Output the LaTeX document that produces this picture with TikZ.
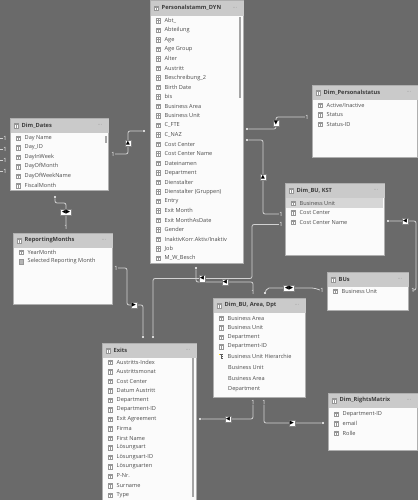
\documentclass[tikz,border=0pt]{standalone}
\usepackage{fontspec}
\setmainfont{Open Sans}
\newfontfamily\symf{DejaVu Sans}
\usetikzlibrary{calc}
\definecolor{bg}{RGB}{106,106,106}
\definecolor{hdr}{RGB}{202,202,202}
\definecolor{bodyc}{RGB}{251,251,251}
\definecolor{txt}{RGB}{75,75,75}
\definecolor{ttl}{RGB}{60,60,60}
\definecolor{lnc}{RGB}{210,210,210}
\definecolor{icn}{RGB}{150,150,150}
\definecolor{brd}{RGB}{175,175,175}
\definecolor{hil}{RGB}{214,214,214}
\definecolor{scr}{RGB}{165,165,165}

\newcommand\mktbl[6]{% name, x, y, w, h, title
  \node[tbody, minimum width=#4pt, minimum height=#5pt] (#1) at (#2,#3) {};
  \node[thead, minimum width=#4pt] (#1-h) at (#2+0.4,#3+0.4) {};
  \node[colicon] (#1-hi) at (#2+6,#3+7.5) {};
  \node[ttitle] (#1-t) at (#2+11.5,#3+7.5) {#6};
  \node[tdots] (#1-d) at (#2+#4-8,#3+7.5) {···};
}
\newcommand\mkrows[4]{% name, x, y, list
  \foreach \r [count=\i] in {#4} {
    \node[colicon] (#1-i\i) at (#2+8,#3+20+\i*9.5-9.5) {};
    \node[rowtxt] (#1-r\i) at (#2+14.5,#3+20+\i*9.5-9.5) {\r};
  }
}

\begin{document}
\begin{tikzpicture}[x=1pt,y=-1pt,
  tbody/.style={anchor=north west, draw=brd, fill=bodyc, line width=0.5pt, inner sep=0},
  thead/.style={anchor=north west, fill=hdr, minimum height=14.6pt, inner sep=0},
  ttitle/.style={anchor=west, inner sep=0, text=ttl, font=\bfseries\fontsize{5.7}{6}\selectfont},
  tdots/.style={inner sep=0, text=icn, font=\symf\fontsize{5}{5}\selectfont},
  rowtxt/.style={anchor=west, inner sep=0, text=txt, font=\fontsize{5.6}{6}\selectfont},
  colicon/.style={draw=icn, fill=white, line width=0.35pt, minimum width=4.6pt, minimum height=4.6pt, inner sep=0,
    path picture={\draw[icn, line width=0.3pt] ($(path picture bounding box.north west)+(0,-1.4pt)$) -- ($(path picture bounding box.north east)+(0,-1.4pt)$);
      \draw[icn, line width=0.3pt] (path picture bounding box.north) -- (path picture bounding box.south);}},
  conn/.style={draw=lnc, line width=0.8pt, rounded corners=2pt},
  dot/.style={circle, fill=white, inner sep=0, minimum size=2.4pt},
  one/.style={inner sep=0.3pt, text=white, font=\fontsize{5.8}{6}\selectfont},
  mk/.style={fill=white, draw=black!50, line width=0.3pt, minimum width=6.5pt, minimum height=6.5pt, inner sep=0,
    font=\symf\fontsize{5.4}{5.4}\selectfont},
  mkd/.style={mk, minimum width=11pt}
]
\useasboundingbox (0,0) rectangle (418,500);
\fill[bg] (0,0) rectangle (418,500);

% ---------- Personalstamm_DYN
\mktbl{ps}{150}{0.5}{93}{262}{Personalstamm\_DYN}
\mkrows{ps}{150}{0.7}{Abt\_,Abteilung,Age,Age Group,Alter,Austritt,Beschreibung\_2,Birth Date,bis,Business Area,Business Unit,C\_FTE,C\_NAZ,Cost Center,Cost Center Name,Dateinamen,Department,Dienstalter,Dienstalter (Gruppen),Entry,Exit Month,Exit MonthAsDate,Gender,InaktivKorr.Aktiv/Inaktiv,Job,M\_W\_Besch}
\fill[scr] (239.3,17) rectangle (241.3,98);

% ---------- Dim_Dates
\mktbl{dd}{10}{118}{98}{72}{Dim\_Dates}
\mkrows{dd}{10}{118}{Day Name,Day\_ID,DayInWeek,DayOfMonth,DayOfWeekName,FiscalMonth}
\fill[scr] (104.8,136) rectangle (106.8,143);

% ---------- ReportingMonths
\mktbl{rm}{13}{233}{99}{71}{ReportingMonths}
\node[colicon] (rm-i1) at (21,252) {};
\node[rowtxt] (rm-r1) at (27.5,252) {YearMonth};
\node[draw=icn, fill=icn!70, minimum width=3.6pt, minimum height=5pt, inner sep=0, line width=0.3pt] (rm-i2) at (21,261.5) {};
\node[rowtxt] (rm-r2) at (27.5,261.5) {Selected Reporting Month};

% ---------- Dim_Personalstatus
\mktbl{dp}{312}{85}{105}{72}{Dim\_Personalstatus}
\mkrows{dp}{312}{85}{Active/Inactive,Status,Status-ID}

% ---------- Dim_BU, KST
\mktbl{kst}{285}{183}{99}{72}{Dim\_BU, KST}
\fill[hil] (285.5,198) rectangle (382.5,208);
\mkrows{kst}{285}{183}{Business Unit,Cost Center,Cost Center Name}

% ---------- BUs
\mktbl{bus}{327}{272}{81}{38}{BUs}
\mkrows{bus}{327}{271}{Business Unit}

% ---------- Dim_BU, Area, Dpt
\mktbl{bad}{213}{298}{92}{99}{Dim\_BU, Area, Dpt}
\mkrows{bad}{213}{298}{Business Area,Business Unit,Department,Department-ID}
\node[inner sep=0, minimum width=5pt, minimum height=5pt] (bad-i5) at (221,356.5) {};
\draw[icn!60!black, line width=0.4pt] (219,354.5) -- (223,354.5) (221,354.5) -- (221,358.5) -- (223,358.5) (221,356.5) -- (223,356.5);
\fill[yellow!70!orange] (218.6,353.8) rectangle (220.2,355.2);
\node[rowtxt] (bad-r5) at (227.5,356.5) {Business Unit Hierarchie};
\node[rowtxt] (bad-r6) at (228,367) {Business Unit};
\node[rowtxt] (bad-r7) at (228,378) {Business Area};
\node[rowtxt] (bad-r8) at (228,389) {Department};

% ---------- Dim_RightsMatrix
\mktbl{drm}{328}{393}{89}{57}{Dim\_RightsMatrix}
\mkrows{drm}{328}{394}{Department-ID,email,Rolle}

% ---------- Exits
\mktbl{ex}{102}{343}{94}{165}{Exits}
\mkrows{ex}{102}{342}{Austritts-Index,Austrittsmonat,Cost Center,Datum Austritt,Department,Department-ID,Exit Agreement,Firma,First Name,Lösungsart,Lösungsart-ID,Lösungsarten,P-Nr.,Surname,Type}
\fill[scr] (191.5,358) rectangle (194,497);

% ---------- end points
\node[dot] (pDot1) at (144,131) {};
\node[dot] (pDot2) at (247,129) {};
\node[dot] (pDot3) at (247,140) {};
\node[dot] (pDot4) at (196,268) {};
\node[dot] (ddDot) at (55,197) {};
\node[dot] (exDot1) at (143,337) {};
\node[dot] (exDot2) at (153,337) {};
\node[dot] (exDot3) at (200,419) {};
\node[dot] (kstDot) at (388,221) {};
\node[dot] (badDot) at (265,293) {};
\node[dot] (rmDot) at (323,423) {};

\node[one] (L1) at (5,138) {1};
\node[one] (L2) at (5,149) {1};
\node[one] (L3) at (5,160) {1};
\node[one] (L4) at (5,171) {1};
\coordinate (E1) at (-1,138);
\coordinate (E2) at (-1,149);
\coordinate (E3) at (-1,160);
\coordinate (E4) at (-1,171);
\node[one] (o1) at (113,154) {1};
\node[one] (o2) at (66,227.5) {1};
\node[one] (o3) at (116,268) {1};
\node[one] (o4) at (307,117) {1};
\node[one] (o5) at (281,214) {1};
\node[one] (o6) at (281,224.5) {1};
\node[one] (o7) at (253,292.5) {1};
\node[one] (o8) at (322,290) {1};
\node[one] (o9) at (413,290) {1};
\node[one] (o10) at (253,402) {1};
\node[one] (o11) at (264,402) {1};

% ---------- connectors
\foreach \k in {1,2,3,4} \draw[conn] (L\k.west) -- (E\k);
\draw[conn] (o1.east) -- (128,154) -- (128,131) -- (pDot1);
\draw[conn] (ddDot) -- (55,203) -| (o2.north);
\draw[conn] (o3.east) -| (127,305) -| (exDot1);
\draw[conn] (pDot2) -- (276,129) |- (o4.west);
\draw[conn] (pDot3) -- (263,140) |- (o5.west);
\draw[conn] (o6.west) -- (252,224.5) |- (153,278.5) -- (exDot2);
\draw[conn] (pDot4) |- (253,282) -- (o7.north);
\draw[conn] (badDot) -- (267,288) -- (314,288) -- (o8.west);
\draw[conn] (kstDot) -- (416,221) |- (o9.east);
\draw[conn] (o10.south) |- (exDot3);
\draw[conn] (o11.south) |- (rmDot);

% ---------- markers
\node[mk] (m1) at (128,143) {▲};
\node[mkd] (m2) at (66,212) {◀▶};
\node[mk] (m3) at (134,305) {▶};
\node[mk] (m4) at (276,123) {▼};
\node[mk] (m5) at (263,177) {▲};
\node[mk] (m6) at (202,278.5) {◀};
\node[mk] (m7) at (225,282) {◀};
\node[mkd] (m8) at (289,288) {◀▶};
\node[mk] (m9) at (405,221) {◀};
\node[mk] (m10) at (228,419) {◀};
\node[mk] (m11) at (292,423) {▶};
\end{tikzpicture}
\end{document}
